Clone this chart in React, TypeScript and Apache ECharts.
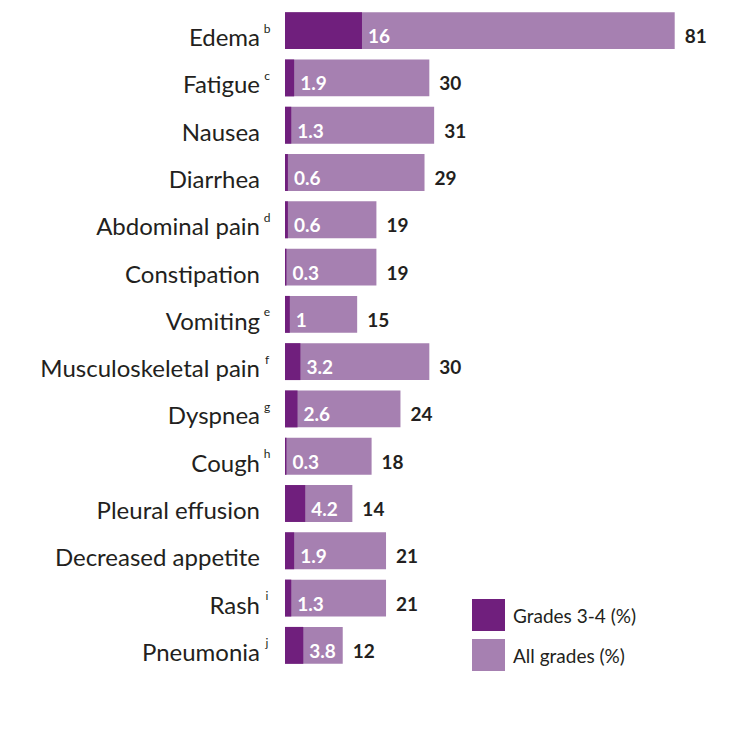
import React, { useEffect, useRef } from "react";
import * as echarts from "echarts";

// Adverse events, percentage of patients
const categories = [
  "Edema",
  "Fatigue",
  "Nausea",
  "Diarrhea",
  "Abdominal pain",
  "Constipation",
  "Vomiting",
  "Musculoskeletal pain",
  "Dyspnea",
  "Cough",
  "Pleural effusion",
  "Decreased appetite",
  "Rash",
  "Pneumonia",
];
const footnotes = ["b", "c", "", "", "d", "", "e", "f", "g", "h", "", "", "i", "j"];
const allGrades = [81, 30, 31, 29, 19, 19, 15, 30, 24, 18, 14, 21, 21, 12];
const grades34 = [16, 1.9, 1.3, 0.6, 0.6, 0.3, 1, 3.2, 2.6, 0.3, 4.2, 1.9, 1.3, 3.8];

const DARK = "#701f7d";
const LIGHT = "#a680b1";
const TEXT = "#231f20";
const FONT = "Lato, 'Open Sans', sans-serif";

export default function App() {
  const ref = useRef<HTMLDivElement>(null);

  useEffect(() => {
    if (!ref.current) return;
    const chart = echarts.init(ref.current, undefined, { renderer: "svg" });
    chart.setOption({
      animation: false,
      textStyle: { fontFamily: FONT },
      grid: { left: 285, right: 32, top: 7, bottom: 69 },
      xAxis: { type: "value", min: 0, max: 90, show: false },
      yAxis: {
        type: "category",
        data: categories,
        inverse: true,
        axisLine: { show: false },
        axisTick: { show: false },
        splitLine: { show: false },
        axisLabel: {
          margin: 13,
          padding: [12, 0, 0, 0],
          formatter: (value: string, idx: number) =>
            `{n|${value}}{s|${footnotes[idx] || " "}}`,
          rich: {
            n: { fontSize: 24, color: TEXT, fontFamily: FONT, lineHeight: 29 },
            s: {
              fontSize: 12,
              color: TEXT,
              fontFamily: FONT,
              width: 10,
              align: "left",
              verticalAlign: "top",
              padding: [0, 0, 0, 2],
            },
          },
        },
      },
      legend: {
        orient: "vertical",
        left: 472,
        top: 599,
        padding: 0,
        itemWidth: 33,
        itemHeight: 32,
        itemGap: 8,
        icon: "rect",
        data: ["Grades 3-4 (%)", "All grades (%)"],
        textStyle: { fontSize: 19, color: TEXT, fontFamily: FONT, padding: [0, 0, 0, 3] },
      },
      series: [
        {
          name: "All grades (%)",
          type: "bar",
          data: allGrades,
          barWidth: "78%",
          itemStyle: { color: LIGHT },
          label: {
            show: true,
            position: "right",
            distance: 10,
            offset: [0, 5],
            color: TEXT,
            fontSize: 19,
            fontWeight: "bold",
            fontFamily: FONT,
          },
        },
        {
          name: "Grades 3-4 (%)",
          type: "bar",
          data: grades34,
          barWidth: "78%",
          barGap: "-100%",
          itemStyle: { color: DARK },
          label: {
            show: true,
            position: "right",
            distance: 6,
            offset: [0, 5],
            color: "#ffffff",
            fontSize: 19,
            fontWeight: "bold",
            fontFamily: FONT,
          },
        },
      ],
    });
    return () => chart.dispose();
  }, []);

  return (
    <div
      ref={ref}
      style={{ position: "absolute", left: 0, top: 0, width: 750, height: 738, background: "#fff" }}
    />
  );
}
